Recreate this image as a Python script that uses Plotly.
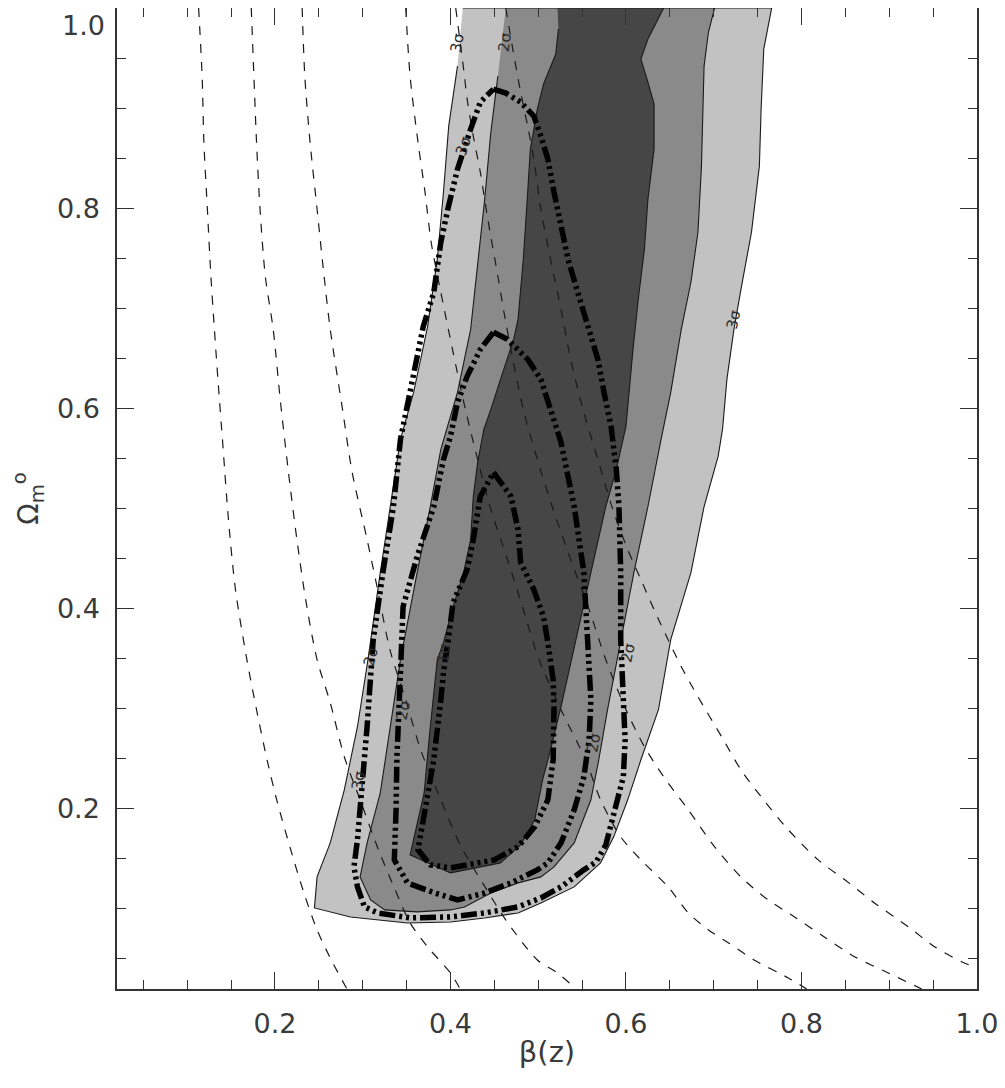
import plotly.graph_objects as go

# ---------------- data ----------------
# filled confidence regions (beta, Omega_m^0) boundaries
sig3_x = [0.414, 0.766, 0.757, 0.754, 0.752, 0.743, 0.731, 0.723, 0.715, 0.710, 0.705, 0.689, 0.674,
          0.651, 0.637, 0.617, 0.602, 0.586, 0.571, 0.541, 0.503, 0.477, 0.439, 0.400, 0.351, 0.286,
          0.245, 0.248, 0.263, 0.279, 0.294, 0.306, 0.320, 0.331, 0.343, 0.358, 0.374, 0.385, 0.392,
          0.398, 0.408]
sig3_y = [1.0, 1.0, 0.959, 0.899, 0.842, 0.776, 0.719, 0.679, 0.629, 0.579, 0.552, 0.502, 0.436,
          0.369, 0.299, 0.249, 0.209, 0.172, 0.146, 0.122, 0.106, 0.096, 0.091, 0.087, 0.086, 0.092,
          0.101, 0.132, 0.166, 0.219, 0.282, 0.349, 0.436, 0.502, 0.569, 0.616, 0.682, 0.749, 0.816,
          0.882, 0.942]

sig2_x = [0.463, 0.701, 0.694, 0.689, 0.688, 0.686, 0.682, 0.674, 0.663, 0.651, 0.640, 0.625, 0.609,
          0.594, 0.579, 0.569, 0.560, 0.541, 0.518, 0.503, 0.477, 0.446, 0.416, 0.400, 0.362, 0.325,
          0.309, 0.297, 0.305, 0.320, 0.331, 0.343, 0.362, 0.377, 0.389, 0.408, 0.423, 0.431, 0.439,
          0.446, 0.454]
sig2_y = [1.0, 1.0, 0.976, 0.942, 0.909, 0.842, 0.776, 0.726, 0.679, 0.616, 0.569, 0.502, 0.436,
          0.369, 0.299, 0.249, 0.209, 0.166, 0.142, 0.132, 0.126, 0.116, 0.102, 0.099, 0.097, 0.099,
          0.109, 0.132, 0.166, 0.216, 0.282, 0.349, 0.436, 0.502, 0.559, 0.616, 0.679, 0.742, 0.809,
          0.876, 0.932]

sig1_x = [0.522, 0.643, 0.625, 0.617, 0.625, 0.632, 0.632, 0.625, 0.621, 0.614, 0.608, 0.600, 0.589,
          0.577, 0.560, 0.543, 0.526, 0.514, 0.505, 0.496, 0.480, 0.457, 0.400, 0.354, 0.370, 0.377,
          0.385, 0.392, 0.403, 0.415, 0.423, 0.426, 0.431, 0.438, 0.446, 0.457, 0.472, 0.477, 0.483,
          0.488, 0.491, 0.499, 0.506, 0.520, 0.523]
sig1_y = [1.0, 1.0, 0.969, 0.949, 0.926, 0.904, 0.859, 0.809, 0.759, 0.709, 0.659, 0.582, 0.539,
          0.502, 0.436, 0.369, 0.302, 0.259, 0.229, 0.189, 0.164, 0.146, 0.136, 0.154, 0.216, 0.282,
          0.349, 0.366, 0.402, 0.436, 0.469, 0.512, 0.546, 0.579, 0.599, 0.629, 0.669, 0.689, 0.749,
          0.816, 0.859, 0.899, 0.924, 0.954, 0.979]

# second data set: thick dash-dot-dot-dot contours
outer_x = [0.449, 0.463, 0.480, 0.495, 0.503, 0.511, 0.518, 0.526, 0.534, 0.545, 0.557, 0.568, 0.575,
           0.583, 0.589, 0.592, 0.594, 0.594, 0.597, 0.599, 0.597, 0.586, 0.577, 0.566, 0.552, 0.526,
           0.503, 0.477, 0.439, 0.400, 0.354, 0.317, 0.302, 0.294, 0.290, 0.294, 0.299, 0.305, 0.309,
           0.312, 0.323, 0.335, 0.343, 0.358, 0.369, 0.381, 0.389, 0.397, 0.408, 0.423, 0.434, 0.449]
outer_y = [0.919, 0.915, 0.906, 0.892, 0.872, 0.849, 0.816, 0.782, 0.749, 0.716, 0.682, 0.649, 0.616,
           0.582, 0.539, 0.502, 0.436, 0.369, 0.309, 0.269, 0.232, 0.192, 0.164, 0.147, 0.139, 0.122,
           0.111, 0.102, 0.096, 0.092, 0.091, 0.096, 0.102, 0.122, 0.142, 0.169, 0.216, 0.282, 0.332,
           0.369, 0.436, 0.502, 0.569, 0.632, 0.682, 0.716, 0.766, 0.799, 0.839, 0.879, 0.906, 0.919]

mid_x = [0.449, 0.465, 0.488, 0.503, 0.514, 0.526, 0.534, 0.541, 0.552, 0.557, 0.560, 0.558, 0.552,
         0.541, 0.526, 0.511, 0.499, 0.469, 0.439, 0.408, 0.382, 0.351, 0.336, 0.338, 0.339, 0.343,
         0.346, 0.362, 0.381, 0.392, 0.400, 0.408, 0.419, 0.434, 0.449]
mid_y = [0.676, 0.669, 0.649, 0.629, 0.599, 0.566, 0.532, 0.502, 0.436, 0.369, 0.309, 0.269, 0.232,
         0.199, 0.166, 0.146, 0.139, 0.126, 0.116, 0.109, 0.116, 0.126, 0.149, 0.199, 0.252, 0.336,
         0.402, 0.452, 0.502, 0.549, 0.572, 0.606, 0.632, 0.659, 0.676]

inner_x = [0.449, 0.469, 0.477, 0.480, 0.495, 0.506, 0.511, 0.517, 0.518, 0.517, 0.511, 0.496, 0.477,
           0.450, 0.400, 0.377, 0.363, 0.371, 0.381, 0.389, 0.392, 0.397, 0.403, 0.419, 0.426, 0.434,
           0.449]
inner_y = [0.536, 0.512, 0.479, 0.446, 0.419, 0.392, 0.366, 0.329, 0.302, 0.249, 0.209, 0.182, 0.162,
           0.149, 0.141, 0.144, 0.159, 0.199, 0.249, 0.309, 0.336, 0.366, 0.406, 0.439, 0.469, 0.512,
           0.536]

# thin dashed reference curves
dash1_x = [0.113, 0.117, 0.119, 0.123, 0.127, 0.131, 0.135, 0.141, 0.147, 0.155, 0.168, 0.179, 0.191,
           0.202, 0.217, 0.233, 0.248, 0.263, 0.282]
dash1_y = [1.0, 0.932, 0.866, 0.799, 0.732, 0.679, 0.629, 0.559, 0.489, 0.419, 0.349, 0.299, 0.249,
           0.209, 0.162, 0.116, 0.079, 0.051, 0.020]
dash2_x = [0.173, 0.176, 0.179, 0.183, 0.189, 0.198, 0.206, 0.215, 0.225, 0.235, 0.248, 0.263, 0.279,
           0.297, 0.318, 0.337, 0.354, 0.374, 0.400, 0.411]
dash2_y = [1.0, 0.932, 0.866, 0.799, 0.732, 0.679, 0.609, 0.539, 0.469, 0.409, 0.349, 0.306, 0.252,
           0.209, 0.159, 0.119, 0.086, 0.062, 0.036, 0.020]
dash3_x = [0.231, 0.234, 0.240, 0.248, 0.256, 0.263, 0.277, 0.288, 0.305, 0.317, 0.331, 0.349, 0.366,
           0.389, 0.411, 0.438, 0.463, 0.499, 0.522, 0.543]
dash3_y = [1.0, 0.932, 0.866, 0.799, 0.732, 0.679, 0.599, 0.536, 0.469, 0.419, 0.359, 0.309, 0.259,
           0.209, 0.164, 0.124, 0.089, 0.049, 0.036, 0.020]
dash4_x = [0.349, 0.354, 0.363, 0.371, 0.378, 0.389, 0.403, 0.417, 0.431, 0.446, 0.465, 0.483, 0.501,
           0.526, 0.554, 0.571, 0.594, 0.617, 0.648, 0.671, 0.694, 0.717, 0.746, 0.785, 0.806]
dash4_y = [1.0, 0.932, 0.866, 0.816, 0.766, 0.716, 0.656, 0.599, 0.549, 0.499, 0.449, 0.399, 0.349,
           0.299, 0.249, 0.209, 0.172, 0.149, 0.122, 0.096, 0.079, 0.066, 0.049, 0.031, 0.020]
dash5_x = [0.406, 0.415, 0.419, 0.426, 0.434, 0.442, 0.454, 0.461, 0.471, 0.483, 0.499, 0.517, 0.537,
           0.558, 0.577, 0.600, 0.621, 0.643, 0.671, 0.701, 0.731, 0.762, 0.792, 0.826, 0.861, 0.899,
           0.937]
dash5_y = [1.0, 0.939, 0.909, 0.872, 0.836, 0.792, 0.732, 0.696, 0.649, 0.599, 0.549, 0.499, 0.449,
           0.399, 0.349, 0.299, 0.262, 0.232, 0.199, 0.162, 0.132, 0.109, 0.092, 0.072, 0.052, 0.036,
           0.020]
dash6_x = [0.463, 0.471, 0.480, 0.488, 0.495, 0.503, 0.514, 0.526, 0.537, 0.551, 0.568, 0.585, 0.602,
           0.617, 0.632, 0.648, 0.663, 0.682, 0.709, 0.731, 0.754, 0.785, 0.819, 0.854, 0.883, 0.922,
           0.952, 0.983, 1.0]
dash6_y = [1.0, 0.959, 0.916, 0.882, 0.849, 0.799, 0.749, 0.699, 0.649, 0.599, 0.549, 0.499, 0.459,
           0.429, 0.399, 0.369, 0.342, 0.312, 0.272, 0.239, 0.212, 0.179, 0.149, 0.126, 0.106, 0.082,
           0.062, 0.047, 0.041]

# contour labels
label_text = ["3σ", "2σ", "3σ", "3σ", "2σ", "2σ", "1σ", "3σ", "2σ", "2σ"]
label_x = [0.408, 0.462, 0.415, 0.723, 0.309, 0.346, 0.392, 0.295, 0.602, 0.563]
label_y = [0.966, 0.966, 0.862, 0.689, 0.352, 0.299, 0.356, 0.229, 0.356, 0.266]
label_angle = [-80, -82, -72, -78, -75, -78, -82, -80, -78, -80]

x_ticks = [0.2, 0.4, 0.6, 0.8, 1.0]
x_tick_labels = ["0.2", "0.4", "0.6", "0.8", "1.0"]
y_ticks = [0.2, 0.4, 0.6, 0.8, 1.0]
y_tick_labels = ["0.2", "0.4", "0.6", "0.8", ""]   # top label "1.0" drawn just below the frame corner
y_top_label = "1.0"

# ---------------- figure ----------------
fig = go.Figure()

for xs, ys, col in [(sig3_x, sig3_y, "#c2c2c2"), (sig2_x, sig2_y, "#8a8a8a"), (sig1_x, sig1_y, "#464646")]:
    fig.add_trace(go.Scatter(x=xs, y=ys, mode="lines", fill="toself", fillcolor=col,
                             line=dict(color="#1a1a1a", width=1.1), hoverinfo="skip", showlegend=False))

for xs, ys in [(dash1_x, dash1_y), (dash2_x, dash2_y), (dash3_x, dash3_y),
               (dash4_x, dash4_y), (dash5_x, dash5_y), (dash6_x, dash6_y)]:
    fig.add_trace(go.Scatter(x=xs, y=ys, mode="lines",
                             line=dict(color="#1a1a1a", width=1.2, dash="9px,9px", shape="spline", smoothing=0.8),
                             hoverinfo="skip", showlegend=False))

for xs, ys in [(outer_x, outer_y), (mid_x, mid_y), (inner_x, inner_y)]:
    fig.add_trace(go.Scatter(x=xs, y=ys, mode="lines",
                             line=dict(color="#000000", width=5.5,
                                       dash="16px,4px,3px,4px,3px,4px,3px,4px"),
                             hoverinfo="skip", showlegend=False))

for t, x, y, a in zip(label_text, label_x, label_y, label_angle):
    fig.add_annotation(x=x, y=y, text=t, showarrow=False, textangle=a,
                       font=dict(family="DejaVu Sans", size=15, color="#2a2a2a"))

tick_font = dict(family="DejaVu Sans", size=27, color="#3a3a3a")

# top y label sits a little below the frame corner (as in the reference)
fig.add_annotation(xref="paper", yref="paper", x=0, y=1, xanchor="right", yanchor="top",
                   xshift=-10, yshift=0, text=y_top_label, showarrow=False, font=tick_font)

axis_common = dict(
    showgrid=False, zeroline=False, showline=True, linecolor="#333333", linewidth=1.5,
    mirror="allticks", ticks="inside", ticklen=17, tickwidth=1.3, tickcolor="#333333",
    tickfont=tick_font, automargin=False, ticklabeloverflow="allow",
    minor=dict(ticks="inside", ticklen=9, tickwidth=1.1, tickcolor="#333333", dtick=0.05, tick0=0),
)

fig.update_xaxes(range=[0.02, 1.0], tickvals=x_ticks, ticktext=x_tick_labels, ticklabelstandoff=10,
                 title=dict(text="β(z)", font=dict(family="DejaVu Sans", size=29, color="#3a3a3a"),
                            standoff=4),
                 **axis_common)
fig.update_yaxes(range=[0.02, 1.0], tickvals=y_ticks, ticktext=y_tick_labels, ticklabelstandoff=10,
                 title=dict(text="Ω<sub>m</sub><sup>o</sup>", font=dict(family="DejaVu Sans", size=28,
                                                                       color="#3a3a3a"),
                            standoff=22),
                 **axis_common)

# page body adds an 8px offset; sizes chosen so the frame lands at 117..977 x 8..989
fig.update_layout(
    width=997, height=1080,
    margin=dict(l=109, r=28, t=0, b=99),
    plot_bgcolor="white", paper_bgcolor="white",
    showlegend=False,
)

fig.write_html("out.html")
